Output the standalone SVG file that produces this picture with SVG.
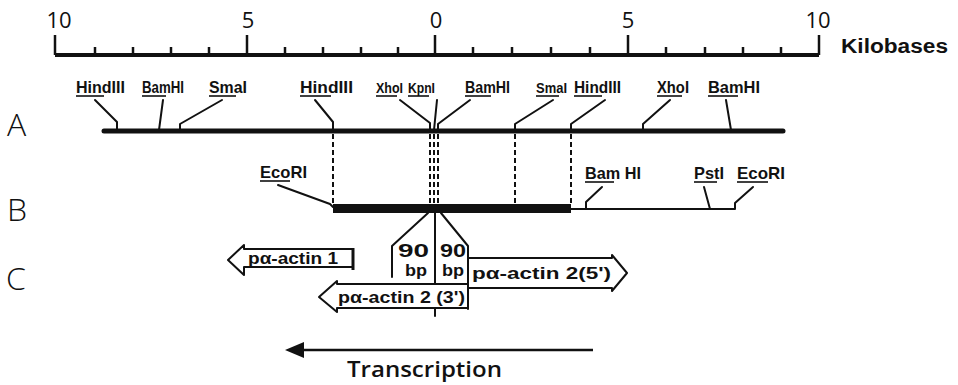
<svg xmlns="http://www.w3.org/2000/svg" width="958" height="385" viewBox="0 0 958 385">
<style>
  .ln{stroke:#111;fill:none;stroke-width:2;stroke-linecap:round;stroke-linejoin:round}
  .ul{stroke:#111;stroke-width:1.6}
  .dash{stroke:#111;fill:none;stroke-width:2;stroke-dasharray:5 3}
  .lab{font-family:"Liberation Sans",Arial,sans-serif;font-weight:bold;font-size:17px;fill:#111}
  .big{font-family:"Open Sans","Liberation Sans",sans-serif;font-weight:300;font-size:32px;fill:#111}
  .num{font-family:"Open Sans","Liberation Sans",sans-serif;font-weight:400;font-size:22px;fill:#111;text-anchor:middle}
  .clab{font-family:"Liberation Sans",Arial,sans-serif;font-weight:bold;font-size:17px;fill:#111}
  .box{stroke:#111;fill:#fff;stroke-width:2;stroke-linejoin:round}
</style>
<rect width="958" height="385" fill="#fff"/>

<g id="scale">
  <line x1="55" y1="55" x2="819" y2="55" stroke="#111" stroke-width="4"/>
  <g stroke="#111" stroke-width="2.5">
    <line x1="55" y1="35" x2="55" y2="55"/><line x1="247" y1="35" x2="247" y2="55"/>
    <line x1="435" y1="35" x2="435" y2="55"/><line x1="628" y1="35" x2="628" y2="55"/>
    <line x1="819" y1="35" x2="819" y2="55"/>
    <line x1="95" y1="47" x2="95" y2="55"/><line x1="133" y1="47" x2="133" y2="55"/>
    <line x1="171" y1="47" x2="171" y2="55"/><line x1="209" y1="47" x2="209" y2="55"/>
    <line x1="285" y1="47" x2="285" y2="55"/><line x1="323" y1="47" x2="323" y2="55"/>
    <line x1="361" y1="47" x2="361" y2="55"/><line x1="398" y1="47" x2="398" y2="55"/>
    <line x1="473" y1="47" x2="473" y2="55"/><line x1="512" y1="47" x2="512" y2="55"/>
    <line x1="551" y1="47" x2="551" y2="55"/><line x1="590" y1="47" x2="590" y2="55"/>
    <line x1="666" y1="47" x2="666" y2="55"/><line x1="705" y1="47" x2="705" y2="55"/>
    <line x1="743" y1="47" x2="743" y2="55"/><line x1="781" y1="47" x2="781" y2="55"/>
  </g>
  <text class="num" x="59" y="28">10</text>
  <text class="num" x="248" y="28">5</text>
  <text class="num" x="436" y="28">0</text>
  <text class="num" x="628" y="28">5</text>
  <text class="num" x="818" y="28">10</text>
  <text class="lab" x="841" y="53" style="font-size:20px" textLength="107" lengthAdjust="spacingAndGlyphs">Kilobases</text>
</g>

<g id="row-letters">
  <text class="big" x="7" y="136">A</text>
  <text class="big" x="7" y="221">B</text>
  <text class="big" x="6" y="290">C</text>
</g>

<g id="mapA">
  <line x1="104" y1="131" x2="783" y2="131" stroke="#111" stroke-width="5" stroke-linecap="round"/>
  <text class="lab" x="76" y="93" textLength="49" lengthAdjust="spacingAndGlyphs">HindIII</text>
  <text class="lab" x="142" y="93" textLength="42" lengthAdjust="spacingAndGlyphs">BamHI</text>
  <text class="lab" x="209" y="93" textLength="38" lengthAdjust="spacingAndGlyphs">SmaI</text>
  <text class="lab" x="300" y="93" textLength="53" lengthAdjust="spacingAndGlyphs">HindIII</text>
  <text class="lab" x="376" y="93" style="font-size:15px" textLength="27" lengthAdjust="spacingAndGlyphs">XhoI</text>
  <text class="lab" x="408" y="93" style="font-size:15px" textLength="27" lengthAdjust="spacingAndGlyphs">KpnI</text>
  <text class="lab" x="465" y="93" textLength="45" lengthAdjust="spacingAndGlyphs">BamHI</text>
  <text class="lab" x="536" y="93" style="font-size:15px" textLength="31" lengthAdjust="spacingAndGlyphs">SmaI</text>
  <text class="lab" x="574" y="93" textLength="47" lengthAdjust="spacingAndGlyphs">HindIII</text>
  <text class="lab" x="657" y="93" textLength="32" lengthAdjust="spacingAndGlyphs">XhoI</text>
  <text class="lab" x="708" y="93" textLength="52" lengthAdjust="spacingAndGlyphs">BamHI</text>
  <g class="ul">
    <line x1="76" y1="96" x2="104" y2="96"/>
    <line x1="142" y1="96" x2="166" y2="96"/>
    <line x1="209" y1="96" x2="236" y2="96"/>
    <line x1="300" y1="96" x2="331" y2="96"/>
    <line x1="376" y1="96" x2="397" y2="96"/>
    <line x1="408" y1="96" x2="429" y2="96"/>
    <line x1="465" y1="96" x2="491" y2="96"/>
    <line x1="536" y1="96" x2="559" y2="96"/>
    <line x1="574" y1="96" x2="602" y2="96"/>
    <line x1="657" y1="96" x2="682" y2="96"/>
    <line x1="708" y1="96" x2="738" y2="96"/>
  </g>
</g>

<g id="mapB">
  <rect x="333" y="204" width="238" height="9" fill="#111"/>
  <line x1="571" y1="209" x2="735" y2="209" stroke="#111" stroke-width="2"/>
  <text class="lab" x="260" y="178" textLength="47" lengthAdjust="spacingAndGlyphs">EcoRI</text>
  <text class="lab" x="585" y="179" textLength="56" lengthAdjust="spacingAndGlyphs">Bam HI</text>
  <text class="lab" x="694" y="179" textLength="30" lengthAdjust="spacingAndGlyphs">PstI</text>
  <text class="lab" x="737" y="179" textLength="48" lengthAdjust="spacingAndGlyphs">EcoRI</text>
  <g class="ul">
    <line x1="260" y1="181" x2="290" y2="181"/>
    <line x1="585" y1="182" x2="614" y2="182"/>
    <line x1="694" y1="182" x2="717" y2="182"/>
    <line x1="737" y1="182" x2="768" y2="182"/>
  </g>
</g>

<g id="mapC">
  <g id="actin1">
    <polygon class="box" points="353,249 244,249 244,245 228,260 244,275 244,267 353,267"/>
    <line x1="353" y1="248" x2="353" y2="270" stroke="#111" stroke-width="3"/>
    <text class="clab" x="248" y="264" textLength="90" lengthAdjust="spacingAndGlyphs">pα-actin 1</text>
  </g>
  <g id="actin2-3prime">
    <polygon class="box" points="468,284 337,284 337,281 319,297 337,312 337,308 468,308"/>
    <text class="clab" x="338" y="303" textLength="127" lengthAdjust="spacingAndGlyphs">pα-actin 2 (3')</text>
  </g>
  <g id="actin2-5prime">
    <polygon class="box" points="468,258 612,258 612,255 627,273 612,291 612,288 468,288"/>
    <text class="clab" x="472" y="279" textLength="139" lengthAdjust="spacingAndGlyphs">pα-actin 2(5')</text>
  </g>
  <g id="bp90-left">
    <polyline class="ln" points="428,213 392,246 392,277"/>
    <text class="clab" x="398" y="257" style="font-size:18px" textLength="31" lengthAdjust="spacingAndGlyphs">90</text>
    <text class="clab" x="405" y="276" style="font-size:16px" textLength="22" lengthAdjust="spacingAndGlyphs">bp</text>
  </g>
  <g id="bp90-right">
    <polyline class="ln" points="441,213 468,246 468,309"/>
    <text class="clab" x="440" y="257" style="font-size:18px" textLength="26" lengthAdjust="spacingAndGlyphs">90</text>
    <text class="clab" x="442" y="276" style="font-size:16px" textLength="22" lengthAdjust="spacingAndGlyphs">bp</text>
  </g>
  <line class="ln" x1="435" y1="213" x2="435" y2="284"/>
  <line class="ln" x1="435" y1="308" x2="435" y2="316"/>
</g>

<g id="connectors">
  <polyline class="ln" points="95,100 117,122 117,130"/>
  <polyline class="ln" points="163,100 159,130"/>
  <polyline class="ln" points="222,100 180,124 180,130"/>
  <polyline class="ln" points="315,100 333,122 333,130"/>
  <polyline class="ln" points="400,100 430,123 430,130"/>
  <polyline class="ln" points="437,100 434,130"/>
  <polyline class="ln" points="470,100 438,124 438,130"/>
  <polyline class="ln" points="553,100 515,124 515,130"/>
  <polyline class="ln" points="605,100 571,124 571,130"/>
  <polyline class="ln" points="670,100 643,124 643,130"/>
  <polyline class="ln" points="726,100 731,130"/>
  <line class="dash" x1="333" y1="134" x2="333" y2="204"/>
  <line class="dash" x1="430" y1="134" x2="430" y2="204"/>
  <line class="dash" x1="434" y1="134" x2="434" y2="204"/>
  <line class="dash" x1="438" y1="134" x2="438" y2="204"/>
  <line class="dash" x1="515" y1="134" x2="515" y2="204"/>
  <line class="dash" x1="571" y1="134" x2="571" y2="204"/>
  <polyline class="ln" points="278,185 330,204 333,207"/>
  <polyline class="ln" points="602,187 586,202 586,209"/>
  <polyline class="ln" points="704,187 710,209"/>
  <polyline class="ln" points="753,187 735,203 735,209"/>
</g>

<g id="transcription">
  <line x1="300" y1="350" x2="593" y2="350" stroke="#111" stroke-width="2.5"/>
  <polygon points="285,350 304,342 304,358" fill="#111"/>
  <text x="347" y="377" style="font-family:'Open Sans','Liberation Sans',sans-serif;font-weight:600;font-size:21px;fill:#111" textLength="155" lengthAdjust="spacingAndGlyphs">Transcription</text>
</g>
</svg>
